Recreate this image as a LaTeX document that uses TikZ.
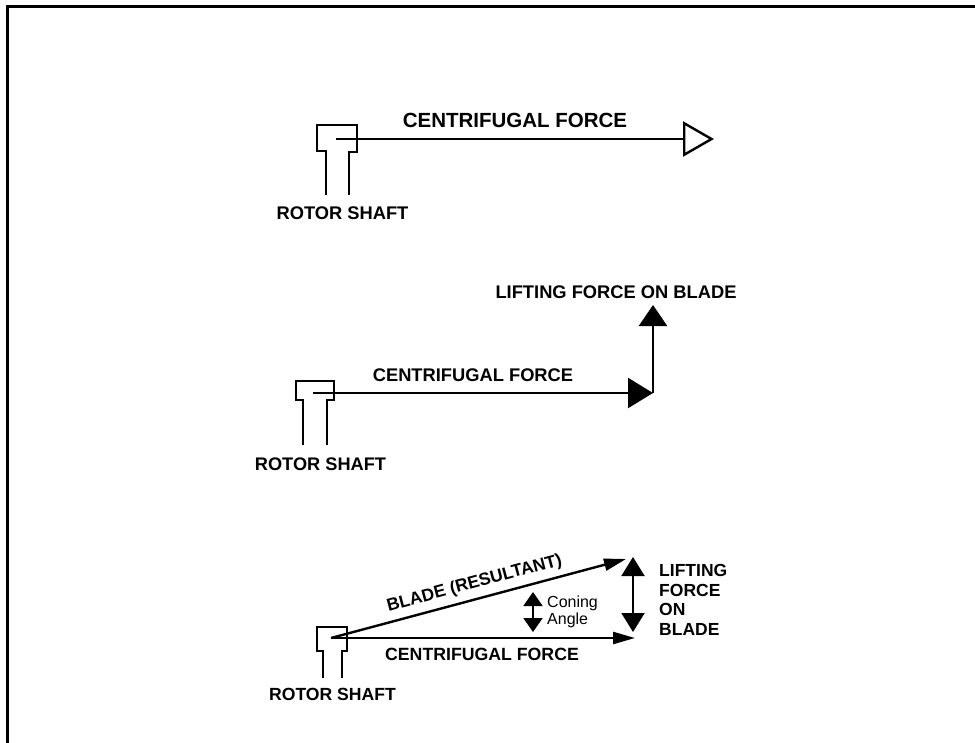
\documentclass[tikz,border=0pt]{standalone}
\usepackage{fontspec}
\setmainfont{Liberation Sans}
\usetikzlibrary{arrows.meta}
\tikzset{
  ln/.style={line width=2.4pt, line join=miter},
  lbl/.style={inner sep=0pt, font=\bfseries\fontsize{#1}{#1}\selectfont},
  openhead/.style={-{Triangle[open,length=31pt,width=35pt,line width=2.4pt]}},
  bighead/.style={-{Triangle[length=25pt,width=30pt]}},
  uphead/.style={-{Triangle[length=21pt,width=28pt]}},
  thinhead/.style={-{Triangle[length=22pt,width=12pt]}},
  dblhead/.style={{Triangle[length=19pt,width=23pt]}-{Triangle[length=19pt,width=23pt]}},
  conehead/.style={{Triangle[length=14pt,width=19pt]}-{Triangle[length=14pt,width=19pt]}},
}
\begin{document}
\begin{tikzpicture}[x=1pt,y=-1pt]
\useasboundingbox (0,0) rectangle (975,742);
\fill[white] (0,0) rectangle (975,742);
% frame (only top and left edges visible)
\draw[line width=3pt] (7,760) -- (7,6) -- (990,6);

% ---------- panel 1 ----------
\draw[ln] (326,195) -- (326,151) -- (317,151) -- (317,125) -- (357,125) -- (357,152) -- (349,152) -- (349,195);
\coordinate (a1) at (336,139);
\coordinate (b1) at (714,139);
\draw[ln,openhead] (a1) -- (b1);
\node[lbl=20.5, anchor=base] (cf1) at (515,127) {CENTRIFUGAL FORCE};
\node[lbl=18.3, anchor=base] (rs1) at (342.5,219) {ROTOR SHAFT};

% ---------- panel 2 ----------
\draw[ln] (303,445) -- (303,400) -- (296,400) -- (296,381) -- (334,381) -- (334,400) -- (327,400) -- (327,445);
\coordinate (a2) at (313,393);
\coordinate (b2) at (653,393);
\coordinate (c2) at (653,305);
\draw[ln,bighead] (a2) -- (b2);
\draw[ln,uphead] (b2) -- (c2);
\node[lbl=18.3, anchor=base] (lf2) at (616,298) {LIFTING FORCE ON BLADE};
\node[lbl=18.3, anchor=base] (cf2) at (473,381) {CENTRIFUGAL FORCE};
\node[lbl=18.2, anchor=base] (rs2) at (320.5,470) {ROTOR SHAFT};

% ---------- panel 3 ----------
\draw[ln] (323,678) -- (323,651) -- (317,651) -- (317,627) -- (347,627) -- (347,651) -- (342,651) -- (342,678);
\coordinate (a3) at (331,638);
\coordinate (b3) at (635,638);
\coordinate (c3) at (626,559);
\draw[ln,thinhead] (a3) -- (b3);
\draw[ln,thinhead] (a3) -- (c3) node[pos=0.5, sloped, above=6pt, lbl=17.5] (bl3) {BLADE (RESULTANT)};
\coordinate (lt3) at (633,557);
\coordinate (lb3) at (633,632);
\draw[line width=2pt,dblhead] (lt3) -- (lb3);
\coordinate (ct3) at (533,592);
\coordinate (cb3) at (533,632);
\draw[line width=2pt,conehead] (ct3) -- (cb3);
\node[inner sep=0pt, anchor=north west, align=left, font=\fontsize{16}{17}\selectfont] (cone) at (547,596) {Coning\\Angle};
\node[inner sep=0pt, anchor=north west, align=left, font=\bfseries\fontsize{17.5}{19.7}\selectfont] (lf3) at (659,564) {LIFTING\\FORCE\\ON\\BLADE};
\node[lbl=17.7, anchor=base] (cf3) at (482,660) {CENTRIFUGAL FORCE};
\node[lbl=17.6, anchor=base] (rs3) at (332.5,700) {ROTOR SHAFT};
\end{tikzpicture}
\end{document}
